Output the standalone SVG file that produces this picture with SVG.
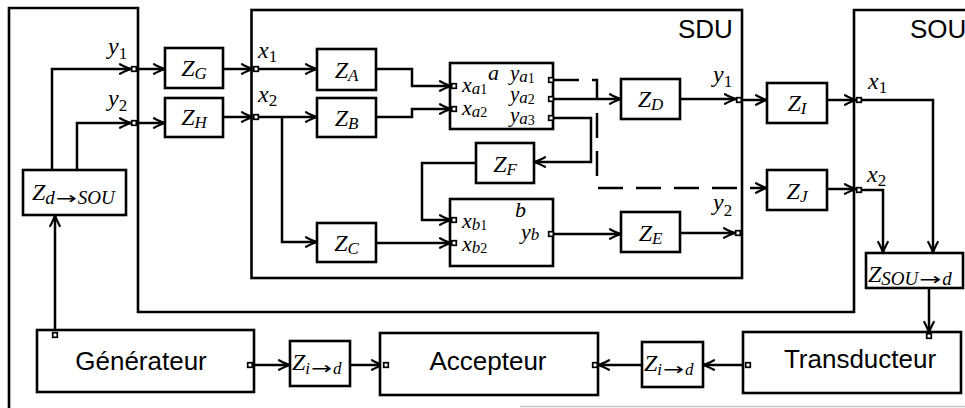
<svg xmlns="http://www.w3.org/2000/svg" width="965" height="408" viewBox="0 0 965 408">
<style>
.b{fill:#fff;stroke:#000;stroke-width:2.6}
.f{fill:none;stroke:#000;stroke-width:2.6}
.p{fill:#fff;stroke:#000;stroke-width:1.7}
.c{fill:none;stroke:#000;stroke-width:2.5;marker-end:url(#ah)}
.d{stroke-dasharray:25 13}
.m{font-family:"Liberation Serif","DejaVu Serif",serif;font-style:italic;font-size:24px;fill:#000}
.k{font-size:22px}
.k2{font-size:21px}
.s{font-size:17px}
.s2{font-size:19px}
.ss{font-size:14px}
.r{font-style:normal}
.ar{font-family:"DejaVu Sans",sans-serif;font-style:normal;font-size:17px}
.t{font-family:"Liberation Sans","DejaVu Sans",sans-serif;font-size:26px;fill:#000}
</style>
<defs>
<marker id="ah" viewBox="-13 -7 15 14" refX="0" refY="0" markerWidth="15" markerHeight="14" markerUnits="userSpaceOnUse" orient="auto">
<path d="M-11,-4.8 Q-4,-1 0,0 Q-4,1 -11,4.8" fill="none" stroke="#000" stroke-width="2.2" stroke-linecap="round"/>
</marker>
</defs>
<rect width="965" height="408" fill="#fff"/>
<line x1="520" y1="406.5" x2="965" y2="406.5" stroke="#c8c8c8" stroke-width="1.5"/>

<g id="SOU">
<path class="f" d="M967,10 H854 V312 H138 V8 H9 V410"/>
<text class="t" x="910" y="38">SOU</text>
<text class="m" x="108" y="54">y<tspan class="s r" dy="5">1</tspan></text>
<text class="m" x="108" y="106">y<tspan class="s r" dy="5">2</tspan></text>
<text class="m" x="868" y="89">x<tspan class="s r" dy="4">1</tspan></text>
<text class="m" x="867" y="182">x<tspan class="s r" dy="4">2</tspan></text>
</g>

<g id="SDU">
<rect class="f" x="251.5" y="10" width="490.5" height="268"/>
<text class="t" x="678" y="38">SDU</text>
<text class="m" x="258" y="58">x<tspan class="s r" dy="4">1</tspan></text>
<text class="m" x="258" y="102">x<tspan class="s r" dy="4">2</tspan></text>
<text class="m" x="713" y="82">y<tspan class="s r" dy="5">1</tspan></text>
<text class="m" x="713" y="210">y<tspan class="s r" dy="6">2</tspan></text>
</g>

<g id="connectors">
<path class="c" d="M52,170 V69 H131"/>
<path class="c" d="M77,170 V123 H131"/>
<path class="c" d="M137,69 H165"/>
<path class="c" d="M137,123 H165"/>
<path class="c" d="M223,69 H253"/>
<path class="c" d="M223,117 H253"/>
<path class="c" d="M259,69 H317"/>
<path class="c" d="M259,117 H317"/>
<path class="c" d="M282,117 V242 H317"/>
<path class="c" d="M376,69 H412 V86 H451"/>
<path class="c" d="M376,117 H412 V109 H451"/>
<path class="c" d="M376,243 H451"/>
<path class="c" d="M554,99 H621"/>
<path class="c" d="M554,118 H591 V162 H534"/>
<path class="c" d="M476,163 H422 V220 H451"/>
<path class="c d" d="M554,80 H597 V188 H767"/>
<path class="c" d="M680,99 H736"/>
<path class="c" d="M742,100 H767"/>
<path class="c" d="M827,100 H856"/>
<path class="c" d="M554,234 H621"/>
<path class="c" d="M680,233 H735"/>
<path class="c" d="M827,189 H856"/>
<path class="c" d="M862,100 H933 V253"/>
<path class="c" d="M862,190 H883 V253"/>
<path class="c" d="M929,288 V333"/>
<path class="c" d="M55,332 V215"/>
<path class="c" d="M253,365 H290"/>
<path class="c" d="M350,365 H383"/>
<path class="c" d="M745,365 H703"/>
<path class="c" d="M642,365 H598"/>
</g>

<g id="ports">
<rect class="p" x="131.7" y="66.7" width="4.6" height="4.6"/>
<rect class="p" x="131.7" y="120.7" width="4.6" height="4.6"/>
<rect class="p" x="253.7" y="66.7" width="4.6" height="4.6"/>
<rect class="p" x="253.7" y="114.7" width="4.6" height="4.6"/>
<rect class="p" x="736.7" y="97.7" width="4.6" height="4.6"/>
<rect class="p" x="735.7" y="230.7" width="4.6" height="4.6"/>
<rect class="p" x="856.7" y="97.7" width="4.6" height="4.6"/>
<rect class="p" x="856.7" y="187.7" width="4.6" height="4.6"/>
</g>

<g id="Zd2SOU">
<rect class="b" x="23" y="170" width="103" height="45"/>
<text class="m" x="32" y="200">Z<tspan class="s2" dy="4">d</tspan><tspan class="ar" dx="1" textLength="21" lengthAdjust="spacingAndGlyphs">→</tspan><tspan class="s2" dx="1">SOU</tspan></text>
</g>
<g id="ZG">
<rect class="b" x="165" y="48" width="58" height="40"/>
<text class="m" x="194" y="76" text-anchor="middle">Z<tspan class="s" dy="3">G</tspan></text>
</g>
<g id="ZH">
<rect class="b" x="165" y="98" width="58" height="39"/>
<text class="m" x="194" y="125" text-anchor="middle">Z<tspan class="s" dy="3">H</tspan></text>
</g>
<g id="ZA">
<rect class="b" x="317" y="49" width="59" height="41"/>
<text class="m" x="346.5" y="78" text-anchor="middle">Z<tspan class="s" dy="3">A</tspan></text>
</g>
<g id="ZB">
<rect class="b" x="317" y="98" width="59" height="39"/>
<text class="m" x="346.5" y="126" text-anchor="middle">Z<tspan class="s" dy="3">B</tspan></text>
</g>
<g id="ZC">
<rect class="b" x="317" y="223" width="59" height="39"/>
<text class="m" x="346.5" y="251" text-anchor="middle">Z<tspan class="s" dy="3">C</tspan></text>
</g>
<g id="a">
<rect class="b" x="450" y="63" width="103" height="66"/>
<text class="m k" x="488" y="80">a</text>
<text class="m k" x="462" y="92">x<tspan class="s" dy="2">a</tspan><tspan class="ss r">1</tspan></text>
<text class="m k" x="462" y="115">x<tspan class="s" dy="2">a</tspan><tspan class="ss r">2</tspan></text>
<text class="m k2" x="510" y="80">y<tspan class="s" dy="2">a</tspan><tspan class="ss r" dy="1">1</tspan></text>
<text class="m k2" x="510" y="101">y<tspan class="s" dy="2">a</tspan><tspan class="ss r" dy="1">2</tspan></text>
<text class="m k2" x="510" y="122">y<tspan class="s" dy="2">a</tspan><tspan class="ss r" dy="1">3</tspan></text>
<rect class="p" x="451.7" y="83.7" width="4.6" height="4.6"/>
<rect class="p" x="451.7" y="106.7" width="4.6" height="4.6"/>
<rect class="p" x="548.7" y="77.7" width="4.6" height="4.6"/>
<rect class="p" x="548.7" y="96.7" width="4.6" height="4.6"/>
<rect class="p" x="548.7" y="115.7" width="4.6" height="4.6"/>
</g>
<g id="b">
<rect class="b" x="450" y="199" width="103" height="67"/>
<text class="m k" x="515" y="217">b</text>
<text class="m k" x="462" y="228">x<tspan class="s" dy="2">b</tspan><tspan class="ss r">1</tspan></text>
<text class="m k" x="462" y="251">x<tspan class="s" dy="2">b</tspan><tspan class="ss r">2</tspan></text>
<text class="m k" x="521" y="239">y<tspan class="s" dy="1">b</tspan></text>
<rect class="p" x="451.7" y="217.7" width="4.6" height="4.6"/>
<rect class="p" x="451.7" y="240.7" width="4.6" height="4.6"/>
<rect class="p" x="548.7" y="231.7" width="4.6" height="4.6"/>
</g>
<g id="ZF">
<rect class="b" x="476" y="143" width="58" height="40"/>
<text class="m" x="505" y="172" text-anchor="middle">Z<tspan class="s" dy="3">F</tspan></text>
</g>
<g id="ZD">
<rect class="b" x="621" y="79" width="59" height="40"/>
<text class="m" x="650.5" y="107" text-anchor="middle">Z<tspan class="s" dy="3">D</tspan></text>
</g>
<g id="ZE">
<rect class="b" x="621" y="212" width="59" height="40"/>
<text class="m" x="650.5" y="241" text-anchor="middle">Z<tspan class="s" dy="3">E</tspan></text>
</g>
<g id="ZI">
<rect class="b" x="767" y="83" width="60" height="40"/>
<text class="m" x="797" y="111" text-anchor="middle">Z<tspan class="s" dy="3">I</tspan></text>
</g>
<g id="ZJ">
<rect class="b" x="767" y="170" width="60" height="40"/>
<text class="m" x="797" y="199" text-anchor="middle">Z<tspan class="s" dy="3">J</tspan></text>
</g>
<g id="ZSOU2d">
<rect class="b" x="866" y="253" width="97" height="35"/>
<text class="m" x="868" y="282">Z<tspan class="s2" dy="3">SOU</tspan><tspan class="ar" dx="1" textLength="22" lengthAdjust="spacingAndGlyphs">→</tspan><tspan class="s2" dx="1">d</tspan></text>
</g>
<g id="Generateur">
<rect class="b" x="37" y="330" width="217" height="62"/>
<text class="t" x="141" y="370" text-anchor="middle">Générateur</text>
<rect class="p" x="52.7" y="332.7" width="4.6" height="4.6"/>
<rect class="p" x="247.7" y="362.7" width="4.6" height="4.6"/>
</g>
<g id="Zi2d-1">
<rect class="b" x="290" y="341" width="60" height="45"/>
<text class="m" x="292" y="370">Z<tspan class="s" dy="4">i</tspan><tspan class="ar" dx="1" textLength="21" lengthAdjust="spacingAndGlyphs">→</tspan><tspan class="s" dx="1">d</tspan></text>
</g>
<g id="Accepteur">
<rect class="b" x="380" y="333" width="218" height="62"/>
<text class="t" x="488" y="370" text-anchor="middle">Accepteur</text>
<rect class="p" x="383.7" y="362.7" width="4.6" height="4.6"/>
<rect class="p" x="592.7" y="362.7" width="4.6" height="4.6"/>
</g>
<g id="Zi2d-2">
<rect class="b" x="642" y="342" width="61" height="45"/>
<text class="m" x="644" y="371">Z<tspan class="s" dy="4">i</tspan><tspan class="ar" dx="1" textLength="21" lengthAdjust="spacingAndGlyphs">→</tspan><tspan class="s" dx="1">d</tspan></text>
</g>
<g id="Transducteur">
<rect class="b" x="743" y="332" width="218" height="61"/>
<text class="t" x="860" y="368" text-anchor="middle">Transducteur</text>
<rect class="p" x="926.7" y="333.7" width="4.6" height="4.6"/>
<rect class="p" x="745.7" y="362.7" width="4.6" height="4.6"/>
</g>
</svg>
